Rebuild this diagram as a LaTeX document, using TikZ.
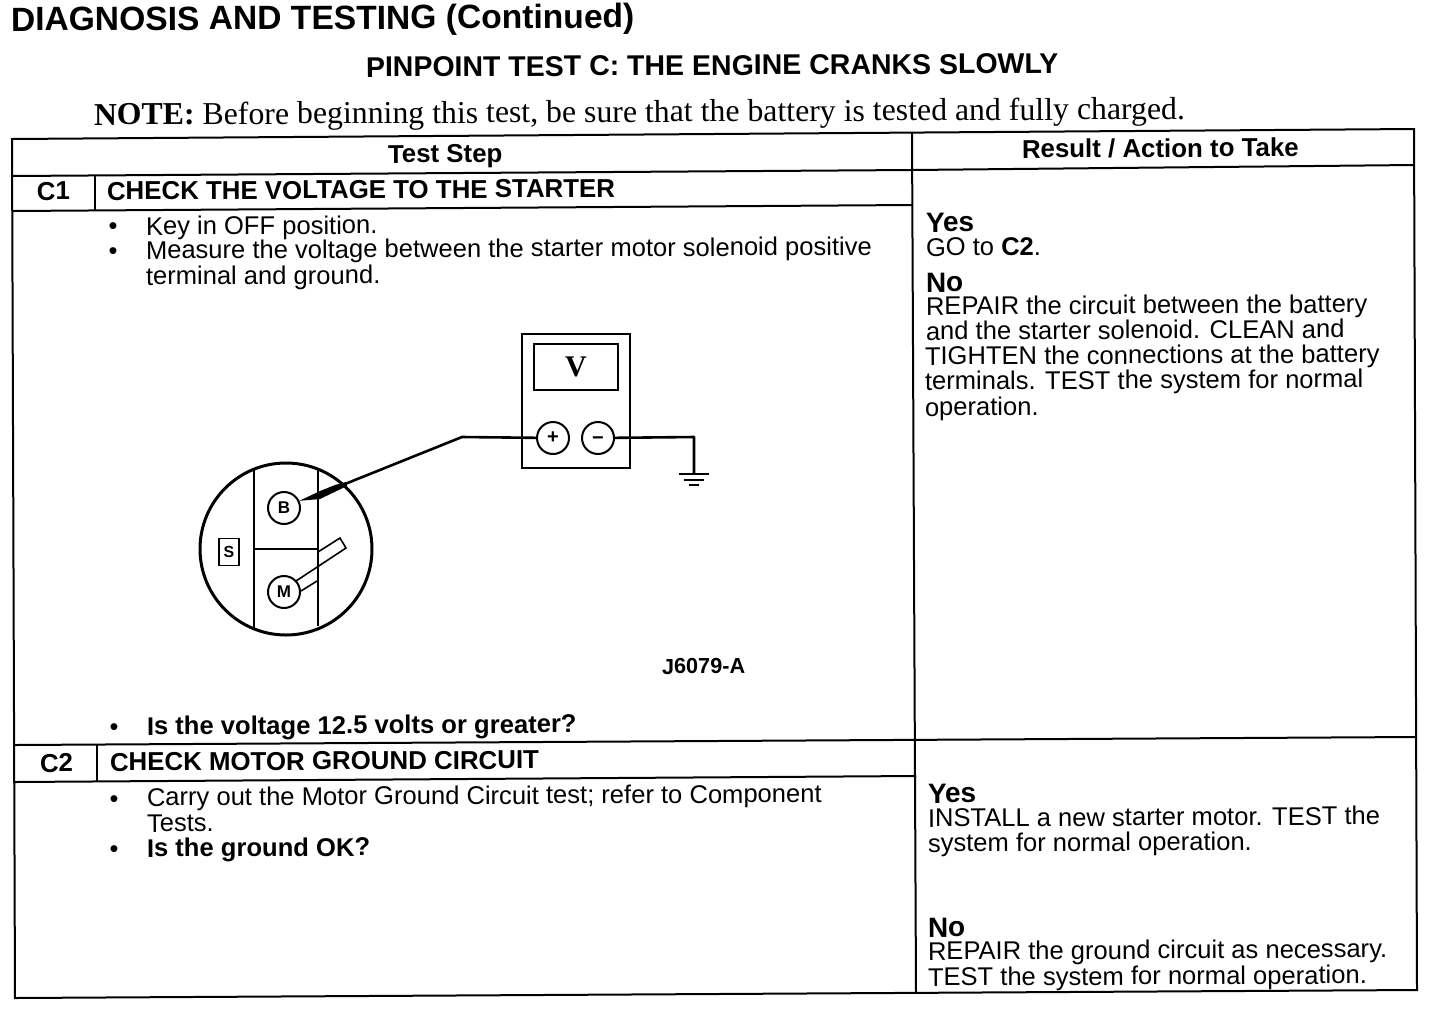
\documentclass[tikz,border=0pt]{standalone}
\usepackage{fontspec}
\setmainfont{Liberation Sans}
\newfontfamily\serifnote{Liberation Serif}
\tikzset{
  txt/.style={anchor=base west,inner sep=0pt,outer sep=0pt,rotate=0.3,font=\fontsize{12.78}{13}\selectfont},
  bodyb/.style={txt,font=\fontsize{12.8}{13}\selectfont\bfseries},
  yesno/.style={txt,font=\fontsize{14}{14}\selectfont\bfseries},
  head/.style={txt,font=\fontsize{12.93}{13}\selectfont\bfseries},
  rule/.style={line width=1pt,black},
  thin line/.style={line width=0.8pt,black},
  wire/.style={line width=1.3pt,black},
  term/.style={circle,draw,line width=1pt,minimum size=16pt,inner sep=0pt,fill=white,font=\fontsize{8.5}{9}\selectfont\bfseries},
  bull/.style={anchor=center,inner sep=0pt,font=\fontsize{12.7}{13}\selectfont},
}
\begin{document}
\begin{tikzpicture}[x=0.5pt,y=-0.5pt]
\useasboundingbox (0,0) rectangle (1440,1008);
\fill[white] (0,0) rectangle (1440,1008);
% table
\draw[rule] (12,139) -- (1414,129) -- (1417,990) -- (15,998) -- cycle;
\draw[rule] (912,133) -- (916,993);
\draw[rule] (12,176) -- (912,170) -- (1414,165);
\draw[rule] (12,211) -- (912,205);
\draw[rule] (95,176) -- (95,210);
\draw[rule] (15,745) -- (1416,737);
\draw[rule] (15,782) -- (916,776);
\draw[rule] (97,745) -- (97,782);
% titles
\node[txt,font=\fontsize{16.8}{17}\selectfont\bfseries] (title) at (11,31) {DIAGNOSIS AND TESTING (Continued)};
\node[txt,font=\fontsize{14.25}{15}\selectfont\bfseries] (pin) at (366,77) {PINPOINT TEST C: THE ENGINE CRANKS SLOWLY};
\node[txt,font=\fontsize{15.9}{16}\selectfont\serifnote] (note) at (94,125) {\textbf{NOTE:} Before beginning this test, be sure that the battery is tested and fully charged.};
\node[head] (ts) at (388,163) {Test Step};
\node[head] (ra) at (1022,158) {Result / Action to Take};
% C1
\node[head] (c1) at (37,200) {C1};
\node[head] (c1t) at (107,200) {CHECK THE VOLTAGE TO THE STARTER};
\node[bull] (b1) at (113,229) {•};
\node[txt] (l1) at (146,235) {Key in OFF position.};
\node[bull] (b2) at (113,254) {•};
\node[txt] (l2) at (146,259) {Measure the voltage between the starter motor solenoid positive};
\node[txt] (l3) at (146,285) {terminal and ground.};
\node[txt,font=\fontsize{10.85}{11}\selectfont\bfseries] (fig) at (662,674) {J6079-A};
\node[bull] (b3) at (114,730) {•};
\node[bodyb] (l4) at (147,735) {Is the voltage 12.5 volts or greater?};
% C1 results
\node[yesno] (y1) at (926,232) {Yes};
\node[txt] (y1a) at (926,256) {GO to \textbf{C2}.};
\node[yesno] (n1) at (926,292) {No};
\node[txt] (n1a) at (926,315) {REPAIR the circuit between the battery};
\node[txt] (n1b) at (926,340) {and the starter solenoid. CLEAN and};
\node[txt] (n1c) at (925,365) {TIGHTEN the connections at the battery};
\node[txt] (n1d) at (925,390) {terminals. TEST the system for normal};
\node[txt] (n1e) at (925,416) {operation.};
% C2
\node[head] (c2) at (40,772) {C2};
\node[head] (c2t) at (110,771) {CHECK MOTOR GROUND CIRCUIT};
\node[bull] (b4) at (114,802) {•};
\node[txt] (l5) at (147,806) {Carry out the Motor Ground Circuit test; refer to Component};
\node[txt] (l6) at (147,832) {Tests.};
\node[bull] (b5) at (114,852) {•};
\node[bodyb] (l7) at (147,857) {Is the ground OK?};
\node[yesno] (y2) at (928,803) {Yes};
\node[txt] (y2a) at (928,827) {INSTALL a new starter motor. TEST the};
\node[txt] (y2b) at (928,852) {system for normal operation.};
\node[yesno] (n2) at (928,937) {No};
\node[txt] (n2a) at (928,960) {REPAIR the ground circuit as necessary.};
\node[txt] (n2b) at (928,986) {TEST the system for normal operation.};
% meter
\node[draw,line width=1.4pt,minimum width=54pt,minimum height=67pt,inner sep=0pt] (meter) at (576,401) {};
\node[draw,line width=1.1pt,minimum width=42pt,minimum height=23pt,inner sep=0pt,font=\fontsize{15}{15}\selectfont\serifnote\bfseries] (disp) at (576,367) {V};
\node[term,font=\fontsize{10}{10}\selectfont\bfseries] (plus) at (553,438) {+};
\node[term,font=\fontsize{10}{10}\selectfont\bfseries] (minus) at (598,438) {\raisebox{-3.2pt}[0pt][0pt]{−}};
% starter
\node[circle,draw,line width=1.5pt,minimum size=86pt,inner sep=0pt] (st) at (286,549) {};
\draw[thin line] (254,468) -- (254,630);
\draw[thin line] (318,470) -- (318,626);
\draw[thin line] (254,549) -- (318,549);
\node[draw,line width=0.8pt,minimum width=10pt,minimum height=13.5pt,inner sep=0pt,font=\fontsize{8}{8}\selectfont\bfseries] (s) at (229,552) {S};
\draw[thin line] (318,552) -- (340,538) -- (346,548) -- (296,581);
\draw[thin line] (301,591) -- (317,581);
\node[term] (B) at (284,508) {B};
\node[term] (M) at (284,592) {M};
% wires
\coordinate (bend) at (462,437);
\coordinate (gnd) at (694,437);
\coordinate (g0) at (694,474);
\coordinate (tipb) at (345,484);
\fill (B.25) -- (320,491) -- (335,485) -- (346,482) -- (347,486) -- (320,499) -- cycle;
\draw[wire,line join=round] (tipb) -- (bend) -- (plus);
\draw[wire,line join=round] (minus) -- (gnd) -- (g0);
\draw[wire] (679,474) -- (709,474);
\draw[wire] (684,480) -- (704,480);
\draw[wire] (689,485) -- (699,485);
\end{tikzpicture}
\end{document}
